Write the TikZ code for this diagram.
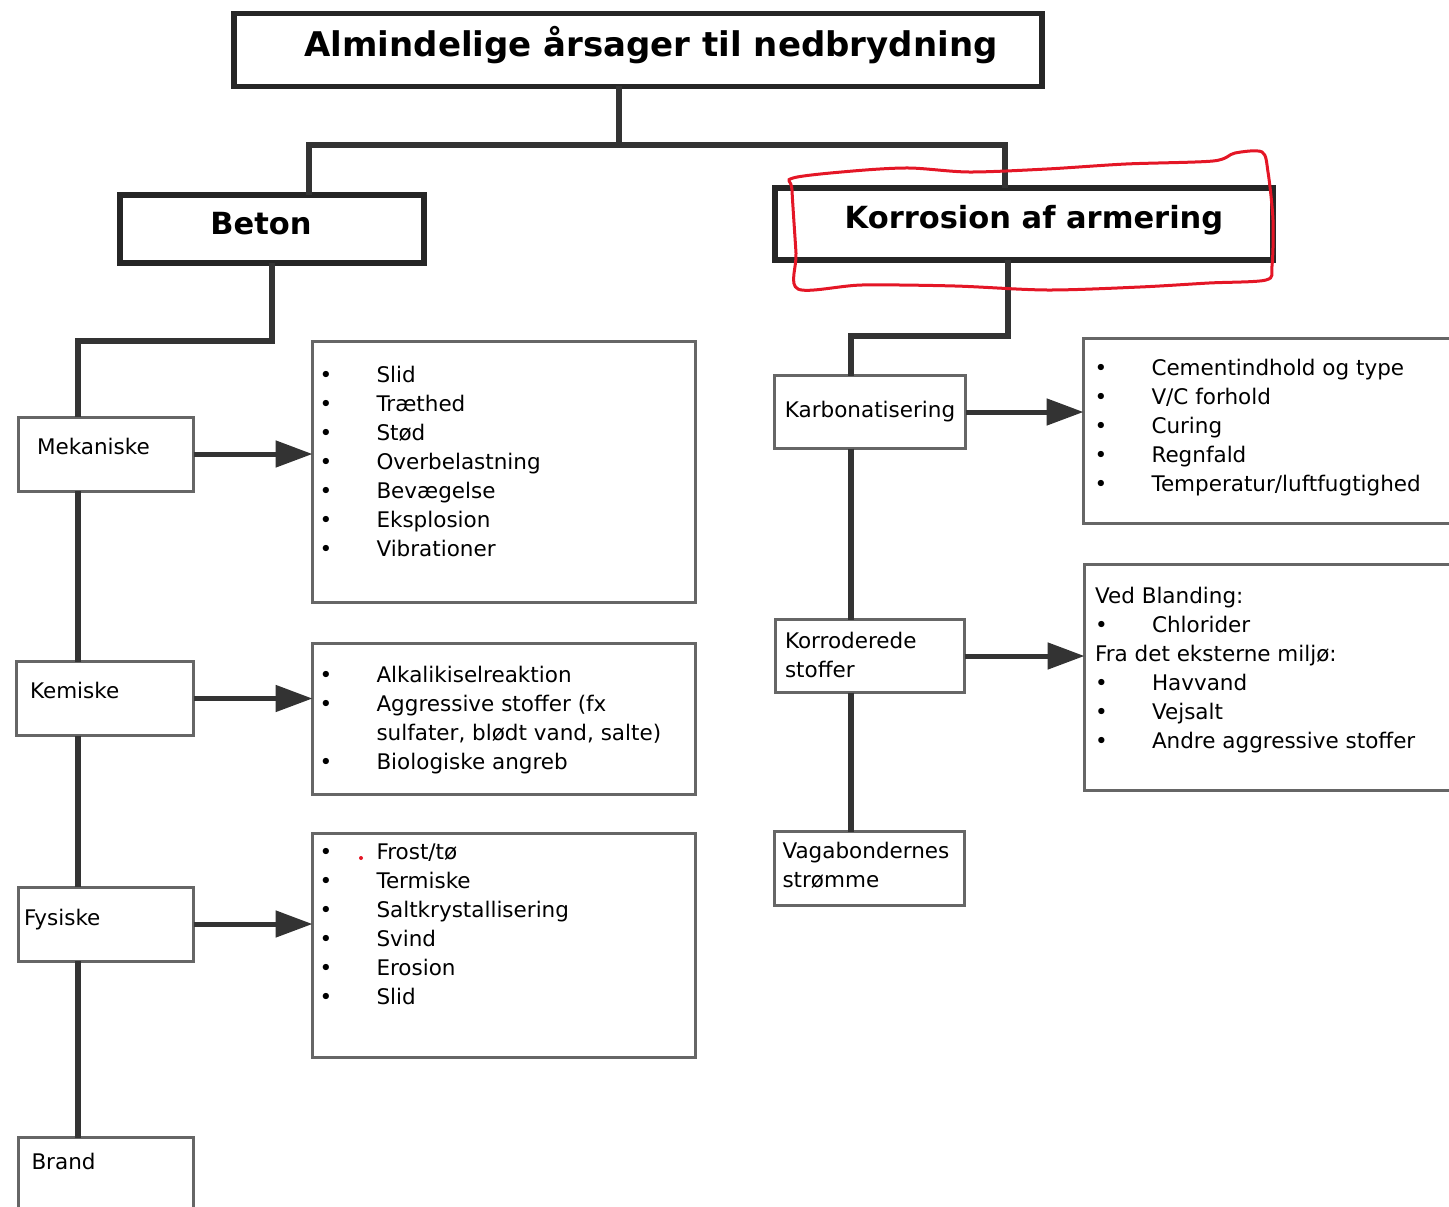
\documentclass[tikz,border=0pt]{standalone}
\usepackage{fontspec}
\setmainfont{DejaVu Sans}
\usetikzlibrary{arrows.meta}

\definecolor{markred}{RGB}{228,22,38}
\newcommand{\listfont}{\fontsize{21.5pt}{29pt}\selectfont}
\newcommand{\listbullet}{\makebox[57pt][l]{\textbullet}}
\newcommand{\listtext}[5]{\parbox[t][#2][t]{#1}{\vspace*{#3}\raggedright\leftskip=#4\relax#5}}

\tikzset{
  bigbox/.style={draw=black!85, line width=5.5pt, inner sep=0pt, outer sep=0pt, font=\bfseries\fontsize{30.5pt}{36pt}\selectfont},
  catbox/.style={draw=black!60, line width=3pt, inner ysep=0pt, outer sep=0pt, minimum height=74pt, align=left, font=\listfont},
  listbox/.style={draw=black!60, line width=3pt, inner sep=0pt, outer sep=0pt, anchor=north west, font=\listfont},
  tree/.style={draw=black!80, line width=5.5pt},
  bigarrow/.style={draw=black!80, line width=5pt, -{Triangle[length=37pt,width=26pt]}},
  markup/.style={draw=markred, line width=3pt},
}

\begin{document}
\begin{tikzpicture}[x=1pt, y=-1pt]
  \useasboundingbox (0,0) rectangle (1449,1207);

  \node[bigbox, minimum width=808pt, minimum height=73pt, font=\bfseries\fontsize{34pt}{40pt}\selectfont, text height=25.8pt, text depth=12.5pt] (title) at (638,50) {\hspace*{26pt}Almindelige årsager til nedbrydning};
  \node[bigbox, minimum width=304pt, minimum height=68pt, text height=23pt, text depth=13pt] (beton) at (272,229) {Beton\hspace*{22pt}};
  \node[bigbox, minimum width=498pt, minimum height=72pt, text height=23pt, text depth=15pt] (korrosion) at (1024,224) {\hspace*{20pt}Korrosion af armering};

  \node[catbox, minimum width=175pt, inner xsep=18.5pt, text width=138pt, text height=16pt, text depth=14.4pt] (mekaniske) at (106,454) {Mekaniske};
  \node[catbox, minimum width=177pt, inner xsep=13.5pt, text width=150pt, text height=16pt, text depth=15.4pt] (kemiske) at (105,698.5) {Kemiske};
  \node[catbox, minimum width=175pt, inner xsep=5.5pt, text width=164pt, text height=16pt, text depth=12.4pt] (fysiske) at (106,924) {Fysiske};
  \node[catbox, minimum width=175pt, minimum height=90pt, inner xsep=13pt, text width=149pt, text height=16pt, text depth=41.4pt] (brand) at (106,1182.5) {Brand};

  \node[catbox, minimum width=191pt, minimum height=73pt, align=center] (karbonatisering) at (870,412) {Karbonatisering};
  \node[catbox, minimum width=189pt, minimum height=73pt, inner xsep=9.5pt, text width=170pt, text height=16pt, text depth=32pt] (korroderede) at (870,656) {Korroderede\\stoffer};
  \node[catbox, minimum width=190pt, inner xsep=8pt, text width=174pt, text height=16pt, text depth=37pt] (vagabonder) at (869.5,868.5) {Vagabondernes\\strømme};

  \node[listbox] (mekaniske-list) at (312.5,341.5) {\listtext{383pt}{261pt}{25pt}{7pt}{%
    \listbullet Slid\\ \listbullet Træthed\\ \listbullet Stød\\ \listbullet Overbelastning\\
    \listbullet Bevægelse\\ \listbullet Eksplosion\\ \listbullet Vibrationer}};
  \node[listbox] (kemiske-list) at (312.5,643.5) {\listtext{383pt}{151pt}{23pt}{7pt}{%
    \listbullet Alkalikiselreaktion\\ \listbullet Aggressive stoffer (fx\\
    \hspace*{57pt}sulfater, blødt vand, salte)\\ \listbullet Biologiske angreb}};
  \node[listbox] (fysiske-list) at (312.5,833.5) {\listtext{383pt}{224pt}{10pt}{7pt}{%
    \listbullet Frost/tø\\ \listbullet Termiske\\ \listbullet Saltkrystallisering\\
    \listbullet Svind\\ \listbullet Erosion\\ \listbullet Slid}};
  \node[listbox] (karbonatisering-list) at (1083.5,338.5) {\listtext{400pt}{185pt}{21pt}{11pt}{%
    \listbullet Cementindhold og type\\ \listbullet V/C forhold\\ \listbullet Curing\\
    \listbullet Regnfald\\ \listbullet Temperatur/luftfugtighed}};
  \node[listbox] (korroderede-list) at (1084.5,564.5) {\listtext{400pt}{226pt}{23pt}{10.5pt}{%
    Ved Blanding:\\ \listbullet Chlorider\\ Fra det eksterne miljø:\\
    \listbullet Havvand\\ \listbullet Vejsalt\\ \listbullet Andre aggressive stoffer}};

  \coordinate (split) at (619,145);
  \coordinate (beton-in) at (309,145);
  \coordinate (korrosion-in) at (1005,145);
  \coordinate (mekaniske-in) at (78,341);
  \coordinate (korrosion-out) at (1008,336);
  \coordinate (karbonatisering-in) at (851,336);

  \draw[tree] (split |- title.south) -- (split);
  \draw[tree] (beton-in |- beton.north) -- (beton-in) -- (korrosion-in) -- (korrosion-in |- korrosion.north);
  \draw[tree] (beton.south) |- (mekaniske-in) -- (mekaniske-in |- mekaniske.north);
  \foreach \a/\b in {mekaniske/kemiske, kemiske/fysiske, fysiske/brand}
    \draw[tree] (mekaniske-in |- \a.south) -- (mekaniske-in |- \b.north);
  \draw[tree] (korrosion-out |- korrosion.south) -- (korrosion-out) -- (karbonatisering-in) -- (karbonatisering-in |- karbonatisering.north);
  \foreach \a/\b in {karbonatisering/korroderede, korroderede/vagabonder}
    \draw[tree] (karbonatisering-in |- \a.south) -- (karbonatisering-in |- \b.north);

  \foreach \a in {mekaniske, kemiske, fysiske, karbonatisering, korroderede}
    \draw[bigarrow] (\a.east) -- (\a.east -| \a-list.west);

  \draw[markup] plot[smooth cycle, tension=0.5] coordinates {(793,178) (853,171) (909,168) (969,172)
    (1047,169) (1126,164) (1213,161) (1235,153) (1262,152) (1268,172) (1273,220) (1272,266)
    (1266,280) (1209,283) (1140,287) (1047,290) (955,286) (862,285) (798,289) (796,253) (792,190)};
  \fill[markred] (361,858) circle (2pt);
\end{tikzpicture}
\end{document}
